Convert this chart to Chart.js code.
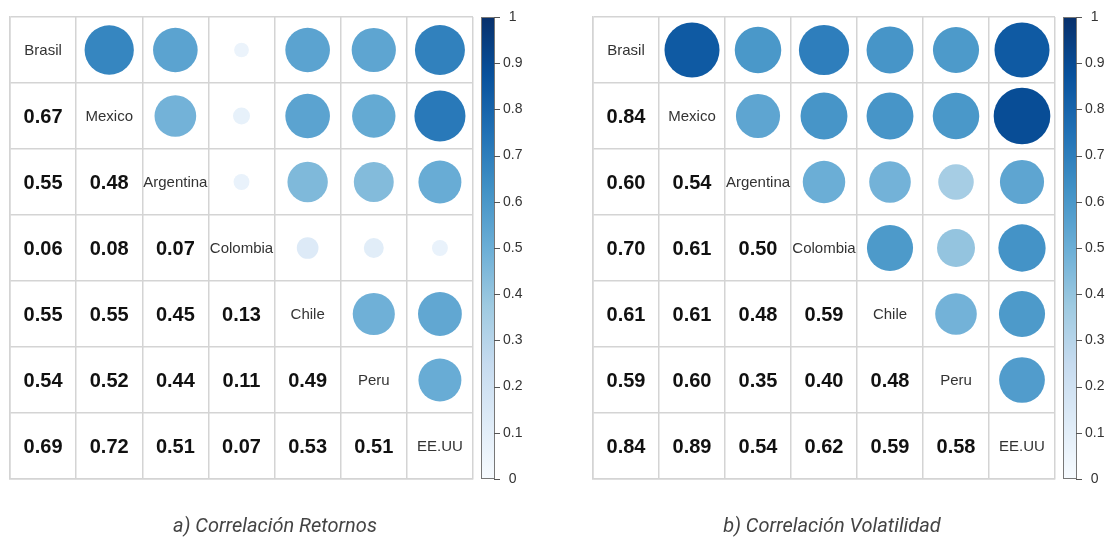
<!DOCTYPE html>
<html>
<head>
<meta charset="utf-8">
<script src="https://cdn.jsdelivr.net/npm/chart.js@4/dist/chart.umd.min.js"></script>
<style>
  html, body { margin: 0; padding: 0; background: #fff; overflow: hidden; width: 1107px; height: 538px; }
  .panel { position: absolute; top: 0; height: 538px; }
  .caption { position: absolute; top: 513px; font: italic 20px/24px Roboto, sans-serif; color: #444;
             transform: translateX(-50%); white-space: nowrap; }
</style>
</head>
<body>
<div class="panel" style="left:0;width:553px"><canvas id="retornos"></canvas></div>
<div class="panel" style="left:553px;width:582px"><canvas id="volatilidad"></canvas></div>
<div class="caption" style="left:275px">a) Correlación Retornos</div>
<div class="caption" style="left:832px">b) Correlación Volatilidad</div>

<script>
const paises = ["Brasil", "Mexico", "Argentina", "Colombia", "Chile", "Peru", "EE.UU"];

// triangulo inferior, fila i = pais i
const retornos = [
  [],
  [0.67],
  [0.55, 0.48],
  [0.06, 0.08, 0.07],
  [0.55, 0.55, 0.45, 0.13],
  [0.54, 0.52, 0.44, 0.11, 0.49],
  [0.69, 0.72, 0.51, 0.07, 0.53, 0.51]
];

const volatilidad = [
  [],
  [0.84],
  [0.60, 0.54],
  [0.70, 0.61, 0.50],
  [0.61, 0.61, 0.48, 0.59],
  [0.59, 0.60, 0.35, 0.40, 0.48],
  [0.84, 0.89, 0.54, 0.62, 0.59, 0.58]
];

const escala = [0, 0.1, 0.2, 0.3, 0.4, 0.5, 0.6, 0.7, 0.8, 0.9, 1];

const azules = ["#F7FBFF", "#DEEBF7", "#C6DBEF", "#9ECAE1", "#6BAED6",
                "#4292C6", "#2171B5", "#08519C", "#08306B"];

const fuente = '"Liberation Sans", Arial, sans-serif';
const gris = "#d4d4d4";

function hexRgb(h) {
  return [1, 3, 5].map(i => parseInt(h.slice(i, i + 2), 16));
}

function colorDe(v) {
  const p = Math.max(0, Math.min(1, v)) * (azules.length - 1);
  const i = Math.min(Math.floor(p), azules.length - 2);
  const f = p - i;
  const a = hexRgb(azules[i]), b = hexRgb(azules[i + 1]);
  const c = a.map((x, k) => Math.round(x + (b[k] - x) * f));
  return `rgb(${c[0]},${c[1]},${c[2]})`;
}

const textos = {
  id: "textos",
  afterDatasetsDraw(chart) {
    const ctx = chart.ctx;
    const meta = chart.getDatasetMeta(1);
    const datos = chart.data.datasets[1].data;
    ctx.save();
    ctx.textAlign = "center";
    ctx.textBaseline = "middle";
    meta.data.forEach((pt, k) => {
      const d = datos[k];
      ctx.font = d.diag ? "15px " + fuente : "bold 20px " + fuente;
      ctx.fillStyle = d.diag ? "#333" : "#111";
      ctx.fillText(d.t, pt.x, pt.y + 1);
    });
    ctx.restore();
  }
};

const barra = {
  id: "barra",
  afterDraw(chart) {
    const ctx = chart.ctx;
    const s = chart.scales.y2;
    const top = s.getPixelForValue(1);
    const bot = s.getPixelForValue(0);
    const x0 = s.left + 8, w = 14;
    const g = ctx.createLinearGradient(0, bot, 0, top);
    azules.forEach((c, i) => g.addColorStop(i / (azules.length - 1), c));
    ctx.save();
    ctx.fillStyle = g;
    ctx.fillRect(x0, top, w, bot - top);
    ctx.strokeStyle = "#777";
    ctx.lineWidth = 1;
    ctx.strokeRect(x0 + 0.5, top + 0.5, w - 1, bot - top - 1);
    ctx.strokeStyle = "#555";
    s.ticks.forEach(t => {
      const y = Math.round(s.getPixelForValue(t.value)) + 0.5;
      ctx.beginPath();
      ctx.moveTo(x0 + w - 1, y);
      ctx.lineTo(x0 + w + 5, y);
      ctx.stroke();
    });
    ctx.restore();
  }
};

function crearMatriz(id, matriz, izq) {
  const circulos = [];
  const etiquetas = [];
  paises.forEach((p, i) => {
    paises.forEach((q, j) => {
      if (j > i) circulos.push({ x: j + 0.5, y: i + 0.5, v: matriz[j][i] });
      else if (j < i) etiquetas.push({ x: j + 0.5, y: i + 0.5, t: matriz[i][j].toFixed(2), diag: false });
      else etiquetas.push({ x: j + 0.5, y: i + 0.5, t: p, diag: true });
    });
  });

  const radio = c => {
    const s = c.chart.scales.x;
    const celda = s.getPixelForValue(1) - s.getPixelForValue(0);
    return 0.455 * celda * Math.sqrt(Math.abs(c.raw.v));
  };

  const ejeCelda = {
    type: "linear", min: 0, max: 7,
    ticks: { display: false, stepSize: 1 },
    grid: { color: gris, lineWidth: 1.5, drawTicks: false },
    border: { color: gris, width: 1.5 }
  };

  new Chart(document.getElementById(id), {
    type: "scatter",
    data: {
      datasets: [
        {
          data: circulos,
          pointRadius: radio,
          pointHoverRadius: radio,
          backgroundColor: c => colorDe(c.raw.v),
          borderWidth: 0
        },
        { data: etiquetas, pointRadius: 0, pointHoverRadius: 0 }
      ]
    },
    options: {
      responsive: true,
      maintainAspectRatio: false,
      animation: false,
      events: [],
      layout: { padding: { left: izq, top: 17, bottom: 59, right: 0 } },
      plugins: { legend: { display: false }, tooltip: { enabled: false } },
      scales: {
        x: Object.assign({}, ejeCelda, { afterFit: a => { a.height = 0; } }),
        y: Object.assign({}, ejeCelda, { reverse: true, afterFit: a => { a.width = 0; } }),
        y2: {
          type: "linear", position: "right", min: 0, max: 1,
          afterBuildTicks: a => { a.ticks = escala.map(v => ({ value: v })); },
          afterFit: a => { a.width = 80; },
          ticks: {
            callback: v => String(v),
            font: { size: 14, family: fuente },
            color: "#333",
            padding: 4,
            crossAlign: "center"
          },
          grid: { drawOnChartArea: false, tickLength: 26, color: "rgba(0,0,0,0)" },
          border: { display: false }
        }
      }
    },
    plugins: [textos, barra]
  });
}

crearMatriz("retornos", retornos, 10);
crearMatriz("volatilidad", volatilidad, 40);
</script>
</body>
</html>
